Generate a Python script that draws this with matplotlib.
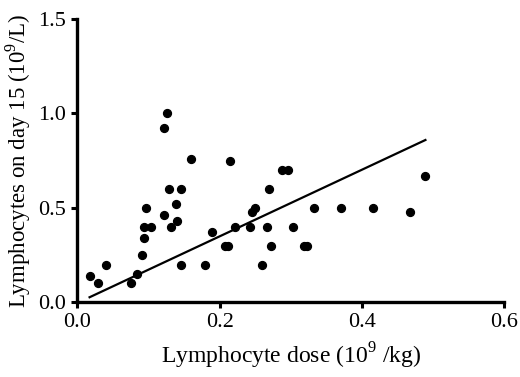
import matplotlib
matplotlib.use("Agg")
import matplotlib.pyplot as plt

# dose (10^9/kg) vs lymphocytes on day 15 (10^9/L)
dose = [0.017, 0.029, 0.040, 0.075, 0.083, 0.091, 0.093, 0.093, 0.097, 0.104,
        0.121, 0.126, 0.122, 0.129, 0.132, 0.138, 0.140, 0.146, 0.146, 0.160,
        0.179, 0.189, 0.207, 0.211, 0.214, 0.221, 0.242, 0.245, 0.250, 0.259,
        0.266, 0.269, 0.272, 0.288, 0.296, 0.303, 0.318, 0.322, 0.332, 0.370,
        0.416, 0.467, 0.488]
lymph = [0.14, 0.10, 0.20, 0.10, 0.15, 0.25, 0.34, 0.40, 0.50, 0.40,
         0.92, 1.00, 0.46, 0.60, 0.40, 0.52, 0.43, 0.60, 0.20, 0.76,
         0.20, 0.37, 0.30, 0.30, 0.75, 0.40, 0.40, 0.48, 0.50, 0.20,
         0.40, 0.60, 0.30, 0.70, 0.70, 0.40, 0.30, 0.30, 0.50, 0.50,
         0.50, 0.48, 0.67]

# regression line ends
fit_x = [0.017, 0.489]
fit_y = [0.027, 0.859]

xticks = [0.0, 0.2, 0.4, 0.6]
yticks = [0.0, 0.5, 1.0, 1.5]

plt.rcParams['font.family'] = 'Liberation Serif'
plt.rcParams['mathtext.fontset'] = 'custom'
plt.rcParams['mathtext.rm'] = 'Liberation Serif'

fig = plt.figure(figsize=(5.2, 3.77), dpi=100)
ax = fig.add_axes([0.149, 0.198, 0.821, 0.752])

ax.scatter(dose, lymph, s=32, color='black', zorder=3, clip_on=False)
ax.plot(fit_x, fit_y, color='black', lw=1.6)

ax.set_xlim(0, 0.6)
ax.set_ylim(0, 1.5)
ax.set_xticks(xticks)
ax.set_yticks(yticks)
ax.set_xticklabels(['%.1f' % t for t in xticks])
ax.set_yticklabels(['%.1f' % t for t in yticks])

for s in ['top', 'right']:
    ax.spines[s].set_visible(False)
for s in ['left', 'bottom']:
    ax.spines[s].set_linewidth(2.4)
ax.tick_params(width=2.2, length=4, labelsize=16, direction='out', pad=4)

ax.set_xlabel('Lymphocyte dose (10$^{\\mathrm{9}}$ /kg)', fontsize=17, labelpad=6)
ax.set_ylabel('Lymphocytes on day 15 (10$^{\\mathrm{9}}$/L)', fontsize=16.5, labelpad=4)

fig.savefig('out.png', dpi=100)
